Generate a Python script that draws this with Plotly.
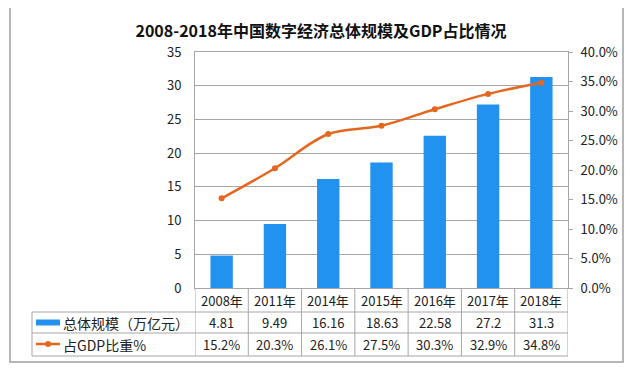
import plotly.graph_objects as go

years = ["2008年", "2011年", "2014年", "2015年", "2016年", "2017年", "2018年"]
scale_values = [4.81, 9.49, 16.16, 18.63, 22.58, 27.2, 31.3]
scale_labels = ["4.81", "9.49", "16.16", "18.63", "22.58", "27.2", "31.3"]
gdp_share = [0.152, 0.203, 0.261, 0.275, 0.303, 0.329, 0.348]
gdp_labels = ["15.2%", "20.3%", "26.1%", "27.5%", "30.3%", "32.9%", "34.8%"]
series_names = ["总体规模（万亿元）", "占GDP比重%"]
title_text = "2008-2018年中国数字经济总体规模及GDP占比情况"

W, H = 640, 373
OFF = 8  # page body margin
L, R, T, B = 195 - OFF, 568 - OFF, 52 - OFF, 288 - OFF
pw, ph = R - L, B - T

def px(x):
    return (x - OFF - L) / pw

def py(y):
    return (B - (y - OFF)) / ph

BLUE = "#2192F0"
ORANGE = "#E4661F"
GRID = "#A6A6A6"
FONT = "Noto Sans CJK SC"

fig = go.Figure()
fig.add_trace(go.Bar(x=years, y=scale_values, name=series_names[0],
                     marker=dict(color=BLUE, line=dict(width=0)), width=0.42))
fig.add_trace(go.Scatter(x=years, y=gdp_share, name=series_names[1], yaxis="y2",
                         mode="lines+markers", line=dict(color=ORANGE, width=2.5, shape="spline", smoothing=1.0),
                         marker=dict(color=ORANGE, size=6)))

shapes = []
line_style = dict(color=GRID, width=1)
for yy in [312, 333, 356]:
    shapes.append(dict(type="line", xref="paper", yref="paper", x0=px(32), x1=1, y0=py(yy), y1=py(yy), line=line_style))
shapes.append(dict(type="line", xref="paper", yref="paper", x0=px(32), x1=px(32), y0=py(312), y1=py(356), line=line_style))
for k in range(len(years) + 1):
    shapes.append(dict(type="line", xref="x", yref="paper", x0=k - 0.5, x1=k - 0.5, y0=0, y1=py(356), line=line_style))
shapes.append(dict(type="rect", xref="paper", yref="paper", x0=px(10), x1=px(623), y0=py(362), y1=py(5),
                   line=dict(color="#A0A0A0", width=1.5)))
shapes.append(dict(type="rect", xref="paper", yref="paper", x0=px(36), x1=px(60), y0=py(319.5), y1=py(325.5),
                   fillcolor=BLUE, line=dict(width=0)))
shapes.append(dict(type="line", xref="paper", yref="paper", x0=px(36), x1=px(60), y0=py(344), y1=py(344),
                   line=dict(color=ORANGE, width=2.5)))
shapes.append(dict(type="circle", xref="paper", yref="paper", x0=px(45), x1=px(51), y0=py(341), y1=py(347),
                   fillcolor=ORANGE, line=dict(width=0)))

ann = []
tf = dict(family=FONT, size=13, color="#222222")
for i, yname in enumerate(years):
    ann.append(dict(x=yname, xref="x", y=py(300.5), yref="paper", text=yname, showarrow=False, font=tf,
                    xanchor="center", yanchor="middle"))
    ann.append(dict(x=yname, xref="x", y=py(322.5), yref="paper", text=scale_labels[i], showarrow=False, font=tf,
                    xanchor="center", yanchor="middle"))
    ann.append(dict(x=yname, xref="x", y=py(344.5), yref="paper", text=gdp_labels[i], showarrow=False, font=tf,
                    xanchor="center", yanchor="middle"))
ann.append(dict(x=px(61), xref="paper", y=py(322.5), yref="paper", text=series_names[0], showarrow=False,
                font=dict(family=FONT, size=14, color="#222222"), xanchor="left", yanchor="middle"))
ann.append(dict(x=px(61), xref="paper", y=py(344.5), yref="paper", text=series_names[1], showarrow=False,
                font=dict(family=FONT, size=14, color="#222222"), xanchor="left", yanchor="middle"))

fig.update_layout(
    width=W, height=H,
    margin=dict(l=L, r=W - R, t=T, b=H - B),
    paper_bgcolor="white", plot_bgcolor="white",
    showlegend=False,
    title=dict(text="<b>" + title_text + "</b>", x=(321 - OFF) / W, xanchor="center", y=1 - (31 - OFF) / H,
               yanchor="middle", font=dict(family=FONT, size=16, color="#111111")),
    xaxis=dict(type="category", range=[-0.5, len(years) - 0.5], showticklabels=False, ticks="",
               showline=True, linecolor=GRID, linewidth=1, mirror=True, showgrid=False),
    yaxis=dict(range=[0, 35], dtick=5, showgrid=True, gridcolor=GRID, gridwidth=1,
               showline=True, linecolor=GRID, linewidth=1, ticks="", ticklabelstandoff=10,
               tickfont=dict(family=FONT, size=13, color="#222222"), zeroline=False),
    yaxis2=dict(range=[0, 0.4], dtick=0.05, tickformat=".1%", overlaying="y", side="right",
                showgrid=False, showline=True, linecolor=GRID, linewidth=1, ticks="outside", ticklen=4,
                tickcolor=GRID, ticklabelstandoff=5, tickfont=dict(family=FONT, size=13, color="#222222"),
                zeroline=False),
    shapes=shapes,
    annotations=ann,
)

fig.write_html("out.html")
